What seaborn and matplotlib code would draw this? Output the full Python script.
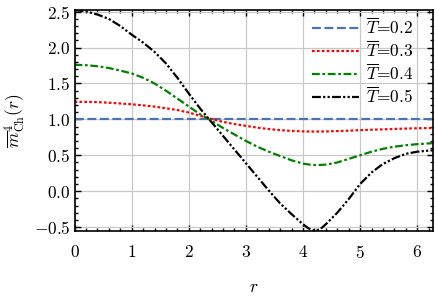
import numpy as np
import pandas as pd
import matplotlib
matplotlib.use("Agg")
import matplotlib.pyplot as plt
import seaborn as sns
from matplotlib.ticker import MultipleLocator

r = [0.0, 0.2, 0.4, 0.6, 0.8, 1.0, 1.2, 1.4, 1.6, 1.8, 2.0, 2.2, 2.4, 2.6, 2.8,
     3.0, 3.2, 3.4, 3.6, 3.8, 4.0, 4.1, 4.2, 4.3, 4.4, 4.6, 4.8, 5.0, 5.2, 5.4,
     5.6, 5.8, 6.0, 6.2, 6.283]
m_T02 = [1.0] * len(r)
m_T03 = [1.245, 1.244, 1.24, 1.232, 1.222, 1.21, 1.195, 1.178, 1.155, 1.13, 1.095,
         1.05, 1.005, 0.965, 0.935, 0.91, 0.885, 0.865, 0.85, 0.84, 0.833, 0.831,
         0.83, 0.831, 0.832, 0.837, 0.843, 0.85, 0.856, 0.861, 0.867, 0.872, 0.876,
         0.879, 0.88]
m_T04 = [1.76, 1.755, 1.74, 1.715, 1.68, 1.64, 1.58, 1.50, 1.40, 1.29, 1.18,
         1.07, 0.98, 0.88, 0.79, 0.70, 0.62, 0.55, 0.49, 0.43, 0.385, 0.372,
         0.365, 0.366, 0.37, 0.40, 0.45, 0.50, 0.55, 0.59, 0.62, 0.64, 0.655,
         0.665, 0.67]
m_T05 = [2.52, 2.505, 2.46, 2.40, 2.30, 2.18, 2.07, 1.94, 1.78, 1.58, 1.36,
         1.15, 0.96, 0.77, 0.58, 0.39, 0.20, 0.01, -0.17, -0.32, -0.46, -0.52,
         -0.55, -0.53, -0.46, -0.30, -0.11, 0.10, 0.26, 0.38, 0.46, 0.52, 0.55,
         0.565, 0.57]
labels = [r"$\overline{T}$=0.2", r"$\overline{T}$=0.3", r"$\overline{T}$=0.4", r"$\overline{T}$=0.5"]

plt.rcParams.update({
    "font.family": "serif",
    "font.serif": ["cmr10", "DejaVu Serif"],
    "mathtext.fontset": "cm",
    "axes.formatter.use_mathtext": True,
    "axes.unicode_minus": True,
    "font.size": 12.5,
})

fig = plt.figure(figsize=(4.36, 2.99), dpi=100)
ax = fig.add_axes([0.171, 0.227, 0.823, 0.740])

series = [m_T02, m_T03, m_T04, m_T05]
colors = ["#4C72B0", "red", "green", "black"]
styles = [(0, (4, 1.6)), (0, (1.2, 1.0)), (0, (3.5, 1.2, 1.2, 1.2)), (0, (4, 1, 1, 1, 1, 1))]
for vals, c, ls, lab in zip(series, colors, styles, labels):
    sns.lineplot(x=r, y=vals, ax=ax, color=c, linestyle=ls, linewidth=1.6,
                 label=lab, sort=False)

ax.set_xlim(0, 2 * np.pi)
ax.set_ylim(-0.556, 2.525)
ax.xaxis.set_major_locator(MultipleLocator(1))
ax.xaxis.set_minor_locator(MultipleLocator(0.2))
ax.yaxis.set_major_locator(MultipleLocator(0.5))
ax.yaxis.set_minor_locator(MultipleLocator(0.1))
ax.tick_params(which="both", direction="in", top=True, right=True, width=1.0)
ax.tick_params(which="major", length=4)
ax.tick_params(which="minor", length=2)
ax.tick_params(axis="x", which="major", pad=9)
ax.tick_params(axis="y", which="major", pad=3)
for s in ax.spines.values():
    s.set_linewidth(1.2)
ax.grid(True, which="major", color="#c8c8c8", linewidth=0.9)
ax.set_axisbelow(True)

ax.set_xlabel(r"$r$", labelpad=14)
ax.set_ylabel(r"$\overline{m}^4_{\rm Ch}(r)$", labelpad=4)

leg = ax.legend(loc="upper right", bbox_to_anchor=(0.962, 1.0), frameon=False,
                handlelength=2.7, labelspacing=0.15, handletextpad=0.4,
                borderaxespad=0.0)

fig.savefig("out.png", dpi=100)
